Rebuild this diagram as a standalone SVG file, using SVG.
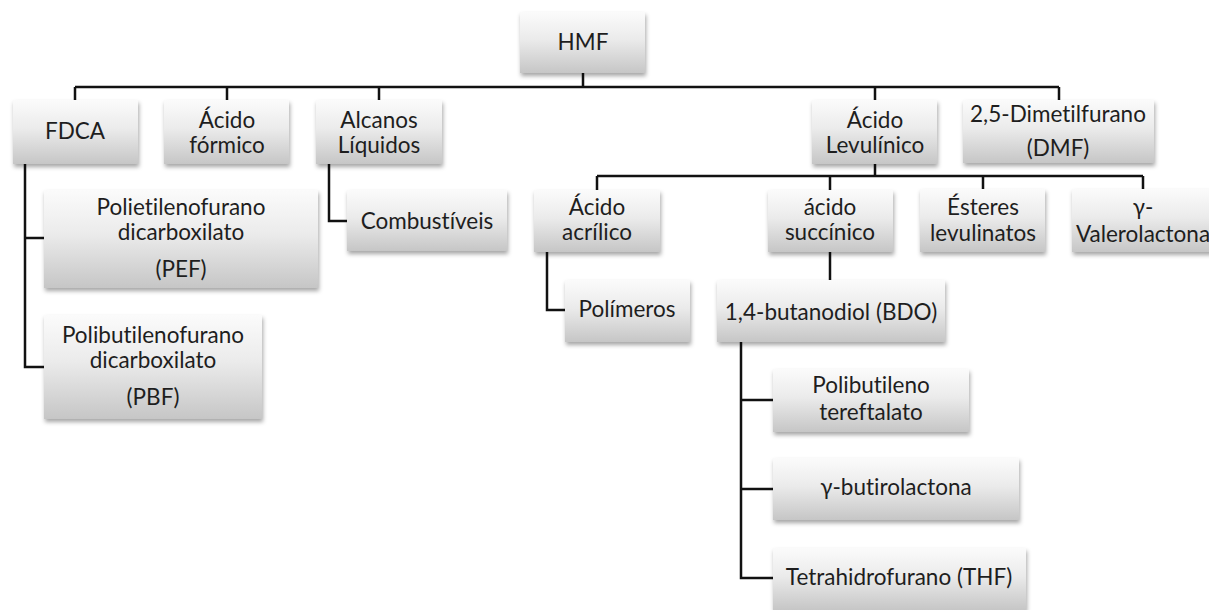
<svg xmlns="http://www.w3.org/2000/svg" width="1209" height="610" viewBox="0 0 1209 610">
<defs>
<linearGradient id="g" x1="0" y1="0" x2="0" y2="1">
<stop offset="0" stop-color="#fbfbfb"/>
<stop offset="0.45" stop-color="#ebebeb"/>
<stop offset="1" stop-color="#c6c6c6"/>
</linearGradient>
<filter id="sh" x="-10%" y="-10%" width="125%" height="135%">
<feDropShadow dx="1" dy="3" stdDeviation="2" flood-color="#000" flood-opacity="0.35"/>
</filter>
</defs>
<style>
rect{fill:url(#g);filter:url(#sh)}
text{font-family:Lato,"Liberation Sans",sans-serif;font-size:22.5px;fill:#1e1e1e;text-anchor:middle;font-variant-ligatures:none;font-feature-settings:"liga" 0}
#connectors path{fill:none;stroke:#111;stroke-width:2.5}
</style>
<rect width="1209" height="610" fill="#fff" style="fill:#fff;filter:none"/>
<g id="connectors">
<path d="M583 73V87M75 87H1059M75 87V100M227 87V100M379 87V100M875 87V100M1059 87V100"/>
<path d="M25 164V367H44M25 238H44"/>
<path d="M329 164V221H348"/>
<path d="M875 164V176M597 176H1143M597 176V190M830 176V190M983 176V190M1143 176V190"/>
<path d="M547 252V310H565"/>
<path d="M830 252V280"/>
<path d="M741 342V578H773M741 400H773M741 489H773"/>
</g>
<g id="hmf"><rect x="520" y="12" width="125" height="61"/><text x="583" y="50">HMF</text></g>
<g id="fdca"><rect x="13" y="100" width="125" height="64"/><text x="75" y="139">FDCA</text></g>
<g id="formico"><rect x="164" y="100" width="125" height="64"/><text x="227" y="128">Ácido</text><text x="227" y="153">fórmico</text></g>
<g id="alcanos"><rect x="316" y="100" width="126" height="64"/><text x="379" y="128">Alcanos</text><text x="379" y="153">Líquidos</text></g>
<g id="levulinico"><rect x="812" y="100" width="125" height="64"/><text x="875" y="128">Ácido</text><text x="875" y="153">Levulínico</text></g>
<g id="dmf"><rect x="963" y="100" width="191" height="63"/><text x="1058" y="122">2,5-Dimetilfurano</text><text x="1058" y="156">(DMF)</text></g>
<g id="pef"><rect x="44" y="190" width="274" height="98"/><text x="181" y="215">Polietilenofurano</text><text x="181" y="240">dicarboxilato</text><text x="181" y="277">(PEF)</text></g>
<g id="pbf"><rect x="44" y="315" width="218" height="104"/><text x="153" y="343">Polibutilenofurano</text><text x="153" y="368">dicarboxilato</text><text x="153" y="405">(PBF)</text></g>
<g id="combustiveis"><rect x="347" y="190" width="160" height="61"/><text x="427" y="229">Combustíveis</text></g>
<g id="acrilico"><rect x="534" y="190" width="126" height="62"/><text x="597" y="215">Ácido</text><text x="597" y="240">acrílico</text></g>
<g id="succinico"><rect x="768" y="190" width="125" height="62"/><text x="830" y="215">ácido</text><text x="830" y="240">succínico</text></g>
<g id="esteres"><rect x="920" y="189" width="125" height="63"/><text x="983" y="215">Ésteres</text><text x="983" y="241">levulinatos</text></g>
<g id="valerolactona"><rect x="1072" y="189" width="142" height="63"/><text x="1143" y="215">γ-</text><text x="1143" y="242">Valerolactona</text></g>
<g id="polimeros"><rect x="565" y="280" width="125" height="62"/><text x="627" y="317">Polímeros</text></g>
<g id="bdo"><rect x="717" y="280" width="228" height="62"/><text x="831" y="320">1,4-butanodiol (BDO)</text></g>
<g id="pbt"><rect x="773" y="369" width="196" height="63"/><text x="871" y="393">Polibutileno</text><text x="871" y="420">tereftalato</text></g>
<g id="gbl"><rect x="773" y="458" width="246" height="62"/><text x="896" y="495">γ-butirolactona</text></g>
<g id="thf"><rect x="773" y="548" width="253" height="62"/><text x="899" y="585">Tetrahidrofurano (THF)</text></g>
</svg>
